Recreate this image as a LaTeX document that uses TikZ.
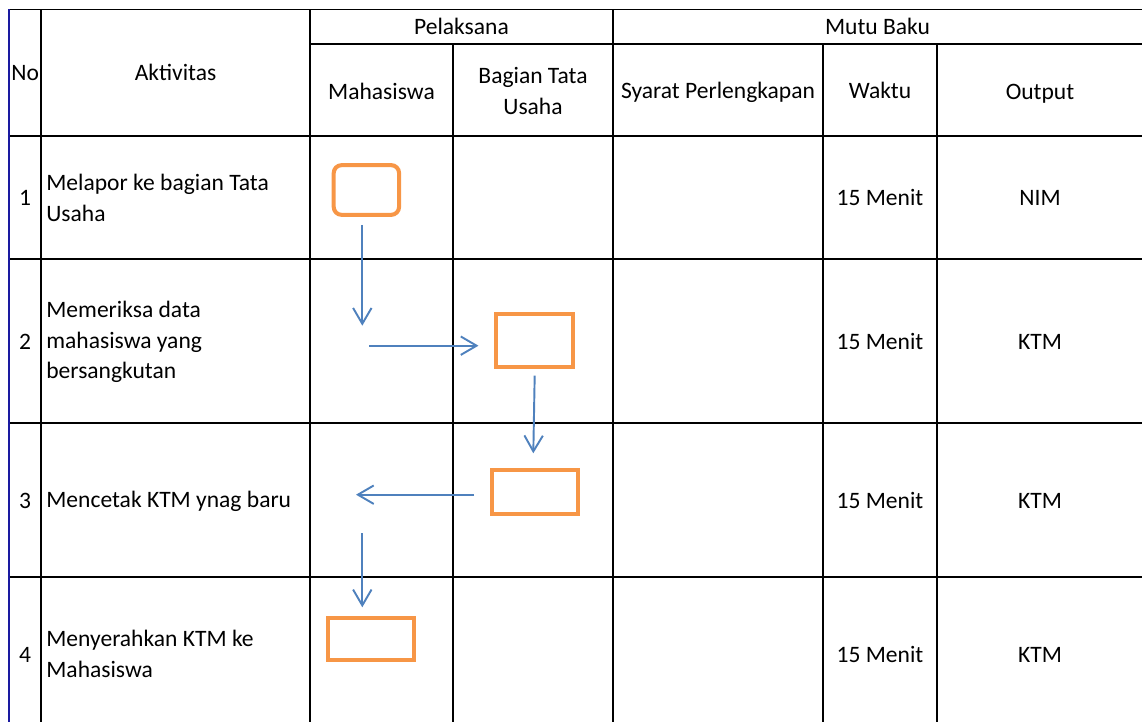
\documentclass[tikz,border=0pt]{standalone}
\usepackage{fontspec}
\setmainfont{Carlito}
\usetikzlibrary{arrows.meta}
\definecolor{boxorange}{HTML}{F79646}
\definecolor{flowblue}{HTML}{4F81BD}
\definecolor{edgenavy}{HTML}{1A1AA0}

\begin{document}
\begin{tikzpicture}[x=0.02cm, y=-0.02cm,
	>={Straight Barb[length=9pt, width=10.5pt]},
	grid/.style={line width=0.8pt, black},
	txt/.style={inner sep=0pt, font=\fontsize{13.4}{17.5}\selectfont, align=center},
	one/.style={txt, text height=8.6pt, text depth=0pt},
	akt/.style={txt, anchor=west, align=left},
	flowbox/.style={draw=boxorange, line width=2.3pt, inner sep=0pt},
	flow/.style={->, draw=flowblue, line width=1.1pt}]
	\useasboundingbox (0,0) rectangle (1142,722);
	%\draw [help lines] (0,0) grid (1142,722);
	% table lines
	\foreach \y in {9.5,136,259,423,577}
		\draw [grid] (8,\y) -- (1142,\y);
	\draw [grid] (310,44) -- (1142,44);
	\foreach \x in {41,310,613}
		\draw [grid] (\x,9.5) -- (\x,722);
	\foreach \x in {453,823,937}
		\draw [grid] (\x,44) -- (\x,722);
	\draw [edgenavy, line width=1.3pt] (9,9.5) -- (9,722);

	% header
	\node [one, anchor=west] (no) at (11,73) {No};
	\node [one] (aktivitas) at (175.5,73) {Aktivitas};
	\node [one] (pelaksana) at (461.5,27) {Pelaksana};
	\node [one] (mutubaku) at (877.5,27) {Mutu Baku};
	\node [one] (mahasiswa) at (381.5,92) {Mahasiswa};
	\node [txt] (tatausaha) at (533,91) {Bagian Tata\\Usaha};
	\node [one] (syarat) at (718,91) {Syarat Perlengkapan};
	\node [one] (waktu) at (880,91) {Waktu};
	\node [one] (output) at (1040,92) {Output};

	% rows
	\node [one] (no1) at (25,198) {1};
	\node [one] (no2) at (25,342) {2};
	\node [one] (no3) at (25,501) {3};
	\node [one] (no4) at (25,655) {4};
	\node [akt] (akt1) at (46,198) {Melapor ke bagian Tata\\Usaha};
	\node [akt] (akt2) at (46,342) {Memeriksa data\\mahasiswa yang\\bersangkutan};
	\node [akt] (akt3) at (46,501) {Mencetak KTM ynag baru};
	\node [akt] (akt4) at (46,654) {Menyerahkan KTM ke\\Mahasiswa};
	\node [one] (waktu1) at (880,198) {15 Menit};
	\node [one] (waktu2) at (880,342) {15 Menit};
	\node [one] (waktu3) at (880,501) {15 Menit};
	\node [one] (waktu4) at (880,655) {15 Menit};
	\node [one] (out1) at (1040,198) {NIM};
	\node [one] (out2) at (1040,342) {KTM};
	\node [one] (out3) at (1040,501) {KTM};
	\node [one] (out4) at (1040,655) {KTM};

	% flow boxes
	\node [flowbox, rounded corners=4.5pt, minimum width=37.2pt, minimum height=28.3pt] (box1) at (366.4,190) {};
	\node [flowbox, minimum width=43.8pt, minimum height=30.3pt] (box2) at (534.8,340.3) {};
	\node [flowbox, minimum width=48.9pt, minimum height=25pt] (box3) at (535,491.7) {};
	\node [flowbox, minimum width=48.9pt, minimum height=24.2pt] (box4) at (371,639) {};

	% free ends of the arrows
	\coordinate (end1) at (362.3,325.7);
	\coordinate (start2) at (369,345.7);
	\coordinate (end3) at (533.3,453.3);
	\coordinate (end4) at (356,494.7);
	\coordinate (start5) at (362.3,533.3);

	\draw [flow, shorten <=4.5pt] (box1.south -| end1) -- (end1);
	\draw [flow, shorten >=9pt] (start2) -- (start2 -| box2.west);
	\draw [flow, shorten <=3.8pt] (box2.south) -- (end3);
	\draw [flow, shorten <=9pt] (box3.west |- end4) -- (end4);
	\draw [flow, shorten >=4.8pt] (start5) -- (start5 |- box4.north);
\end{tikzpicture}
\end{document}
